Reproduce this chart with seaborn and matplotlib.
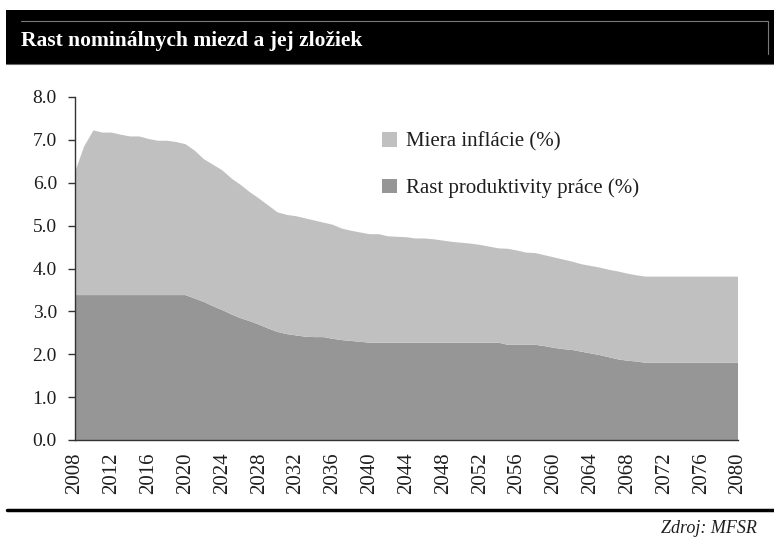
import numpy as np
import pandas as pd
import matplotlib
matplotlib.use("Agg")
import matplotlib.pyplot as plt
from matplotlib.patches import Rectangle, Patch
from matplotlib.lines import Line2D
from matplotlib.ticker import MultipleLocator, FormatStrFormatter
import seaborn as sns

# ---------------- data ----------------
years = list(range(2008, 2081))
productivity = [
    3.38, 3.38, 3.38, 3.38, 3.38, 3.38, 3.38, 3.38, 3.38, 3.38, 3.38, 3.38, 3.38,  # 2008-2020
    3.30, 3.22, 3.12, 3.03, 2.93, 2.84, 2.77, 2.69, 2.60, 2.52,                    # 2021-2030
    2.47, 2.44, 2.41, 2.40, 2.40, 2.36, 2.33, 2.31, 2.29, 2.27,                    # 2031-2040
    2.27, 2.27, 2.27, 2.27, 2.27, 2.27, 2.27, 2.27, 2.27, 2.27,                    # 2041-2050
    2.27, 2.27, 2.27, 2.27, 2.22, 2.22, 2.22, 2.22, 2.19, 2.15,                    # 2051-2060
    2.12, 2.10, 2.06, 2.02, 1.98, 1.93, 1.88, 1.85, 1.83, 1.80,                    # 2061-2070
    1.80, 1.80, 1.80, 1.80, 1.80, 1.80, 1.80, 1.80, 1.80, 1.80,                    # 2071-2080
]
inflation = [
    2.87, 3.47, 3.84, 3.79, 3.79, 3.74, 3.70, 3.70, 3.64, 3.60, 3.60, 3.57, 3.52,  # 2008-2020
    3.45, 3.33, 3.30, 3.26, 3.17, 3.11, 3.01, 2.94, 2.87, 2.79,                    # 2021-2030
    2.78, 2.78, 2.76, 2.72, 2.67, 2.66, 2.60, 2.57, 2.55, 2.53,                    # 2031-2040
    2.53, 2.48, 2.47, 2.46, 2.43, 2.43, 2.41, 2.38, 2.35, 2.33,                    # 2041-2050
    2.31, 2.28, 2.24, 2.20, 2.24, 2.20, 2.15, 2.14, 2.12, 2.11,                    # 2051-2060
    2.09, 2.06, 2.04, 2.04, 2.04, 2.04, 2.05, 2.03, 2.01, 2.01,                    # 2061-2070
    2.01, 2.01, 2.01, 2.01, 2.01, 2.01, 2.01, 2.01, 2.01, 2.01,                    # 2071-2080
]
series_labels = ["Rast produktivity práce (%)", "Miera inflácie (%)"]
title_text = "Rast nominálnych miezd a jej zložiek"
source_text = "Zdroj: MFSR"

df = pd.DataFrame({"year": years, "prod": productivity, "infl": inflation})

# ---------------- style ----------------
sns.set_theme(style="white")
plt.rcParams["font.family"] = ["Liberation Serif", "DejaVu Serif"]

col_infl = "#c0c0c0"
col_prod = "#969696"
txt_col = "#1e1e1e"

W, H = 774, 541
fig = plt.figure(figsize=(W / 100, H / 100), dpi=100)
fig.patch.set_facecolor("white")

ax = fig.add_axes([75 / W, 1 - 440 / H, (738 - 75) / W, (440 - 97) / H])
ax.stackplot(df["year"], df["prod"], df["infl"],
             colors=[col_prod, col_infl], linewidth=0, edgecolor="none")

ax.set_xlim(2008, 2080)
ax.set_ylim(0, 8)
ax.yaxis.set_major_locator(MultipleLocator(1))
ax.yaxis.set_major_formatter(FormatStrFormatter("%.1f"))
ax.xaxis.set_major_locator(MultipleLocator(4))
ax.xaxis.set_minor_locator(MultipleLocator(8))
ax.xaxis.set_major_formatter(FormatStrFormatter("%d"))

for s in ["top", "right"]:
    ax.spines[s].set_visible(False)
for s in ["left", "bottom"]:
    ax.spines[s].set_color("#333333")
    ax.spines[s].set_linewidth(1.0)

ax.tick_params(axis="y", which="major", direction="out", length=5, width=1,
               color="#333333", labelsize=14, labelcolor=txt_col, pad=8, left=True)
ax.tick_params(axis="x", which="major", length=0, labelsize=15,
               labelcolor=txt_col, pad=9, labelrotation=90, bottom=True)
ax.tick_params(axis="x", which="minor", direction="out", length=5, width=1,
               color="#333333", bottom=True)
ax.set_xlabel("")
ax.set_ylabel("")
ax.grid(False)

# legend
handles = [Patch(facecolor=col_infl, edgecolor="none", label=series_labels[1]),
           Patch(facecolor=col_prod, edgecolor="none", label=series_labels[0])]
leg = ax.legend(handles=handles, loc="upper left",
                bbox_to_anchor=((382 - 75) / (738 - 75), 1 - (132 - 97) / (440 - 97)),
                frameon=False, fontsize=15, labelspacing=1.3,
                handlelength=0.7, handleheight=0.7, handletextpad=0.45,
                borderaxespad=0, borderpad=0)
for t in leg.get_texts():
    t.set_color(txt_col)

# title bar
fig.patches.append(Rectangle((6 / W, 1 - 64 / H), (W - 6) / W, 54 / H,
                             transform=fig.transFigure, facecolor="black",
                             edgecolor="none", zorder=0))
fig.lines.append(Line2D([21 / W, 768 / W, 768 / W],
                        [1 - 21 / H, 1 - 21 / H, 1 - 54 / H],
                        transform=fig.transFigure, color="#7a7a7a", linewidth=0.8))
fig.lines.append(Line2D([6 / W, 1], [1 - 63.5 / H, 1 - 63.5 / H],
                        transform=fig.transFigure, color="#6a6a6a", linewidth=0.8))
fig.text(21 / W, 1 - 46 / H, title_text, color="white", fontsize=15.5,
         fontweight="bold", ha="left", va="baseline")

# bottom rule and source
fig.lines.append(Line2D([7 / W, 1], [1 - 510 / H, 1 - 510 / H],
                        transform=fig.transFigure, color="black", linewidth=2.5))
fig.text(757 / W, 1 - 533 / H, source_text, color=txt_col, fontsize=13,
         fontstyle="italic", ha="right", va="baseline")

fig.savefig("out.png", dpi=100)
